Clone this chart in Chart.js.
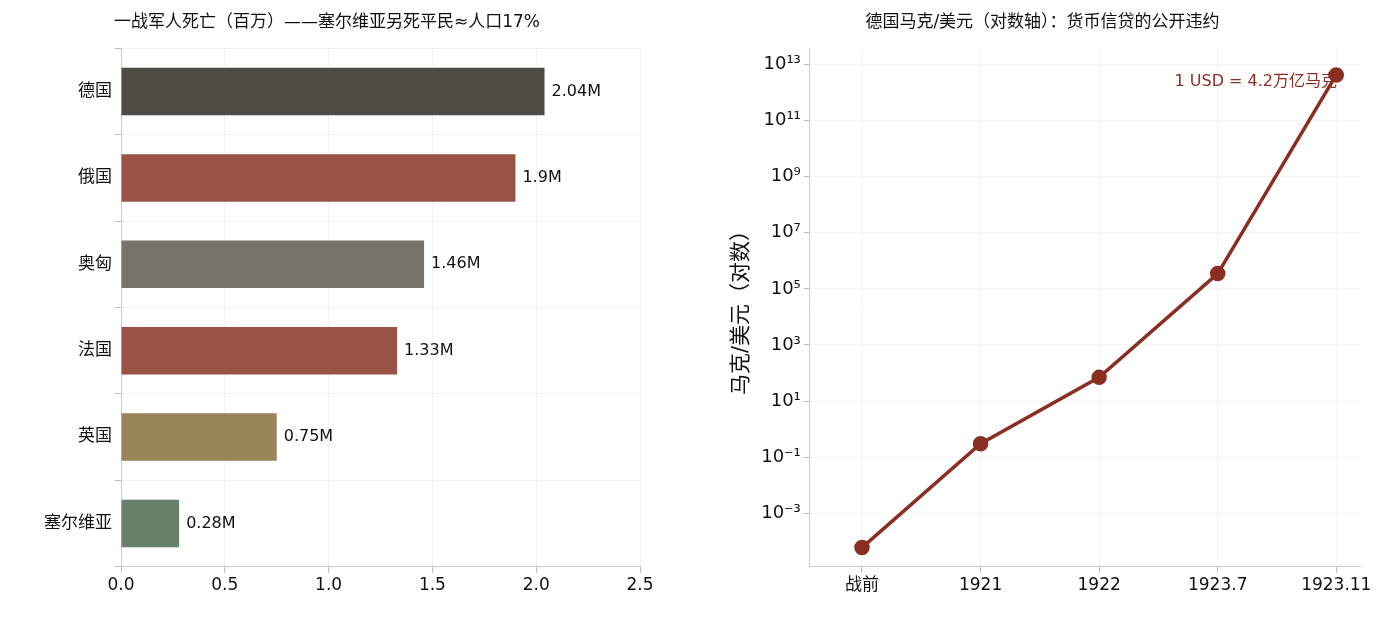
<!DOCTYPE html>
<html lang="en">
<head>
<meta charset="UTF-8">
<title>一战与马克</title>
<script src="https://cdn.jsdelivr.net/npm/chart.js"></script>
<style>
  body { margin: 0; background: #fff; font-family: "DejaVu Sans", "Noto Sans CJK SC", sans-serif; }
  #left { position: absolute; left: 0; top: 0; width: 660px; height: 621px; }
  #right { position: absolute; left: 715px; top: 0; width: 683px; height: 621px; }
</style>
</head>
<body>
<div id="left"><canvas id="barChart"></canvas></div>
<div id="right"><canvas id="lineChart"></canvas></div>
<script>
    const countries = ["德国", "俄国", "奥匈", "法国", "英国", "塞尔维亚"];
    const deaths = [2.04, 1.9, 1.46, 1.33, 0.75, 0.28];
    const barColors = ["#4f4b45", "#9a5245", "#78746b", "#9a5245", "#9a8459", "#66806a"];

    const periods = ["战前", "1921", "1922", "1923.7", "1923.11"];
    const marksPerUsd = [6e-5, 0.3, 70, 3.5e5, 4.2e12];
    const logTicks = [-3, -1, 1, 3, 5, 7, 9, 11, 13];

    const font = "'DejaVu Sans', 'Noto Sans CJK SC', sans-serif";
    Chart.defaults.font.family = font;
    Chart.defaults.color = "#111";

    const sup = { "-": "⁻", "0": "⁰", "1": "¹", "2": "²", "3": "³", "4": "⁴", "5": "⁵", "6": "⁶", "7": "⁷", "8": "⁸", "9": "⁹" };
    const toSup = n => String(n).split("").map(c => sup[c]).join("");

    // numbers at the bar ends
    const barLabels = {
        id: "barLabels",
        afterDatasetsDraw(chart) {
            const ctx = chart.ctx;
            const meta = chart.getDatasetMeta(0);
            ctx.save();
            ctx.font = "16px " + font;
            ctx.fillStyle = "#111";
            ctx.textBaseline = "middle";
            meta.data.forEach((bar, i) => {
                ctx.fillText(deaths[i] + "M", bar.x + 7, bar.y);
            });
            ctx.restore();
        }
    };

    new Chart(document.getElementById("barChart"), {
        type: "bar",
        data: {
            labels: countries,
            datasets: [{ data: deaths, backgroundColor: barColors, borderWidth: 0, categoryPercentage: 0.55, barPercentage: 1 }]
        },
        options: {
            indexAxis: "y",
            responsive: true,
            maintainAspectRatio: false,
            animation: false,
            layout: { padding: { top: 12, right: 20, left: 14, bottom: 22 } },
            plugins: {
                legend: { display: false },
                tooltip: { enabled: false },
                title: { display: true, text: "一战军人死亡（百万）——塞尔维亚另死平民≈人口17%", font: { size: 17, weight: "normal" }, color: "#111", padding: { bottom: 16 } }
            },
            scales: {
                x: {
                    min: 0, max: 2.5,
                    ticks: { stepSize: 0.5, font: { size: 17 }, callback: v => v.toFixed(1) },
                    grid: { color: "rgba(0,0,0,0.05)", tickColor: "#bbb", tickLength: 6 },
                    border: { color: "#ccc" }
                },
                y: {
                    afterFit: axis => { axis.width = 107; },
                    ticks: { font: { size: 17 } },
                    grid: { color: "rgba(0,0,0,0.05)", tickColor: "#bbb", tickLength: 6 },
                    border: { color: "#ccc" }
                }
            }
        },
        plugins: [barLabels]
    });

    const noteLabel = {
        id: "noteLabel",
        afterDraw(chart) {
            const ctx = chart.ctx;
            const a = chart.chartArea;
            ctx.save();
            ctx.font = "16px " + font;
            ctx.fillStyle = "#8b2e22";
            ctx.textAlign = "right";
            ctx.fillText("1 USD = 4.2万亿马克", a.right - 23, a.top + 38);
            ctx.restore();
        }
    };

    new Chart(document.getElementById("lineChart"), {
        type: "line",
        data: {
            datasets: [{
                data: marksPerUsd.map((v, i) => ({ x: i, y: v })),
                borderColor: "#8b2e22",
                backgroundColor: "#8b2e22",
                borderWidth: 3.5,
                pointRadius: 6,
                pointHoverRadius: 6,
                tension: 0
            }]
        },
        options: {
            responsive: true,
            maintainAspectRatio: false,
            animation: false,
            layout: { padding: { top: 12, right: 38, left: 10, bottom: 22 } },
            plugins: {
                legend: { display: false },
                tooltip: { enabled: false },
                title: { display: true, text: "德国马克/美元（对数轴）：货币信贷的公开违约", font: { size: 17, weight: "normal" }, color: "#111", padding: { bottom: 16 } }
            },
            scales: {
                x: {
                    type: "linear",
                    min: -0.44, max: 4.2,
                    afterBuildTicks: axis => { axis.ticks = periods.map((p, i) => ({ value: i })); },
                    ticks: { font: { size: 17 }, callback: v => periods[v] },
                    grid: { color: "rgba(0,0,0,0.04)", tickColor: "#bbb", tickLength: 6 },
                    border: { color: "#ccc" }
                },
                y: {
                    type: "logarithmic",
                    min: Math.pow(10, -4.9), max: Math.pow(10, 13.57),
                    afterBuildTicks: axis => { axis.ticks = logTicks.map(p => ({ value: Math.pow(10, p) })); },
                    ticks: { font: { size: 18 }, callback: v => "10" + toSup(Math.round(Math.log10(v))) },
                    title: { display: true, text: "马克/美元（对数）", font: { size: 21 }, color: "#111" },
                    grid: { color: "rgba(0,0,0,0.04)", tickColor: "#bbb", tickLength: 6 },
                    border: { color: "#ccc" }
                }
            }
        },
        plugins: [noteLabel]
    });
</script>
</body>
</html>
